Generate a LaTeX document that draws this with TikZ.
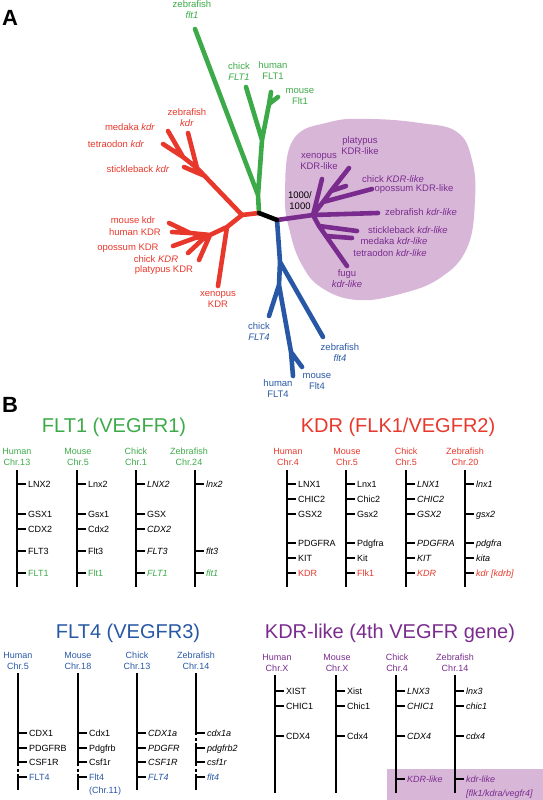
\documentclass[tikz,border=0pt]{standalone}
\usepackage{fontspec}
\setmainfont{Liberation Sans}
\definecolor{cg}{RGB}{61,170,73}
\definecolor{cr}{RGB}{232,56,44}
\definecolor{cb}{RGB}{40,88,165}
\definecolor{cp}{RGB}{122,44,142}
\definecolor{cl}{RGB}{216,182,216}
\tikzset{
 br/.style={line width=4.6pt,line cap=round,line join=round},
 lab/.style={font=\fontsize{9.5}{11}\selectfont,align=center,inner sep=0pt},
 sp/.style={font=\fontsize{9}{10.5}\selectfont,align=center,inner sep=0pt},
 gene/.style={font=\fontsize{9}{11}\selectfont,anchor=west,inner sep=0pt,text height=6.5pt,text depth=0pt},
 chromline/.style={line width=2.8pt},
 tk/.style={line width=1.8pt},
 ttl/.style={font=\fontsize{20}{24}\selectfont,inner sep=0pt},
 panel/.style={font=\bfseries\fontsize{22}{26}\selectfont,inner sep=0pt}
}
\newcommand\gn[5]{\node[gene,#4] (#3) at ({#1+11},#2) {#5}; \draw[tk] ([xshift=-2pt]#3.west) -- ++(-9pt,0pt);}
\newcommand\chromo[4]{\coordinate (#1t) at (#2,#3); \coordinate (#1b) at (#2,#4); \draw[chromline] (#1t) -- (#1b);}
\begin{document}
\begin{tikzpicture}[x=1pt,y=-1pt]
\useasboundingbox (0,0) rectangle (543,800);
% ---------------- panel A ----------------
\fill[cl] plot[smooth cycle, tension=0.7] coordinates {(293,140) (330,122) (370,119) (420,123) (457,132) (472,160) (475,200) (467,248) (440,278) (400,294) (357,300) (322,288) (302,265) (290,232) (285,195)};
% green
\coordinate (G0) at (259,213); \coordinate (G1) at (258,195); \coordinate (Gz) at (195,29);
\coordinate (G2) at (262,140); \coordinate (Gc) at (246,87); \coordinate (G3) at (269,104);
\coordinate (Gh) at (271,92); \coordinate (Gm) at (278,97);
\draw[br,cg] (G0) -- (G1) -- (Gz) (G1) -- (G2) -- (Gc) (G2) -- (G3) -- (Gh) (G3) -- (Gm);
% red
\coordinate (RN) at (242,215); \coordinate (R1) at (197,168); \coordinate (Rz) at (188,133);
\coordinate (R2) at (183,157); \coordinate (Rm) at (168,131); \coordinate (Rt) at (163,144);
\coordinate (Rs0) at (205,176); \coordinate (Rs) at (184,167);
\coordinate (R3) at (227,227); \coordinate (Rx) at (218,286); \coordinate (R4) at (210,235);
\coordinate (R5) at (190,233); \coordinate (Rmo) at (169,223); \coordinate (Rhu) at (172,232);
\coordinate (R6) at (195,238); \coordinate (Rop) at (173,246); \coordinate (R7) at (203,239);
\coordinate (Rch) at (188,253); \coordinate (Rpl) at (199,260);
\draw[br,cr] (G0) -- (RN) -- (R1) -- (Rz) (R1) -- (R2) -- (Rm) (R2) -- (Rt) (Rs0) -- (Rs)
  (RN) -- (R3) -- (Rx) (R3) -- (R4) -- (R5) -- (Rmo) (R5) -- (Rhu) (R4) -- (R6) -- (Rop)
  (R4) -- (R7) -- (Rch) (R4) -- (Rpl);
% blue
\coordinate (B0) at (277,220); \coordinate (B1) at (280,262); \coordinate (Bz) at (323,337);
\coordinate (B2) at (279,285); \coordinate (Bc) at (269,316); \coordinate (B3) at (291,352);
\coordinate (Bh) at (293,376); \coordinate (Bm) at (302,367);
\draw[br,cb] (B0) -- (B1) -- (Bz) (B1) -- (B2) -- (Bc) (B2) -- (B3) -- (Bh) (B3) -- (Bm);
% purple
\coordinate (PN) at (313,215); \coordinate (Px) at (322,179); \coordinate (Q1) at (323,202);
\coordinate (Q2) at (331,191); \coordinate (Ppl) at (349,168); \coordinate (Pch) at (346,186);
\coordinate (Pop) at (372,189); \coordinate (Pz) at (378,213); \coordinate (F1) at (319,226);
\coordinate (Pst) at (357,231); \coordinate (F2) at (326,236); \coordinate (Pme) at (352,238);
\coordinate (Pfu) at (347,266);
\draw[br,cp] (B0) -- (PN) -- (Px) (PN) -- (Q1) -- (Q2) -- (Ppl) (Q2) -- (Pch) (Q1) -- (Pop)
  (PN) -- (Pz) (PN) -- (F1) -- (Pst) (F1) -- (F2) -- (Pme) (F2) -- (Pfu);
% black
\draw[br,black] (G0) -- (B0);
% labels
\node[panel] (pa) at (10,18) {A};
\node[lab,text=cg] (lgz) at (192,10) {zebrafish\\\textit{flt1}};
\node[lab,text=cg] (lgc) at (239,72) {chick\\\textit{FLT1}};
\node[lab,text=cg] (lgh) at (273,71) {human\\FLT1};
\node[lab,text=cg] (lgm) at (300,96) {mouse\\Flt1};
\node[lab,text=cr] (lrz) at (187,118) {zebrafish\\\textit{kdr}};
\node[lab,text=cr] (lrm) at (130,127) {medaka \textit{kdr}};
\node[lab,text=cr] (lrt) at (116,144) {tetraodon \textit{kdr}};
\node[lab,text=cr] (lrs) at (138,169) {stickleback \textit{kdr}};
\node[lab,text=cr] (lrmo) at (133,220) {mouse kdr};
\node[lab,text=cr] (lrhu) at (135,232) {human KDR};
\node[lab,text=cr] (lrop) at (128,248) {opossum KDR};
\node[lab,text=cr] (lrch) at (156,259) {chick \textit{KDR}};
\node[lab,text=cr] (lrpl) at (164,270) {platypus KDR};
\node[lab,text=cr] (lrx) at (218,299) {xenopus\\KDR};
\node[lab,text=cb] (lbc) at (259,332) {chick\\\textit{FLT4}};
\node[lab,text=cb] (lbz) at (340,353) {zebrafish\\\textit{flt4}};
\node[lab,text=cb] (lbh) at (278,389) {human\\FLT4};
\node[lab,text=cb] (lbm) at (317,381) {mouse\\Flt4};
\node[lab,text=cp] (lppl) at (360,146) {platypus\\KDR-like};
\node[lab,text=cp] (lpx) at (319,161) {xenopus\\KDR-like};
\node[lab,text=cp] (lpch) at (393,179) {chick \textit{KDR-like}};
\node[lab,text=cp] (lpop) at (414,189) {opossum KDR-like};
\node[lab,text=cp] (lpz) at (421,212) {zebrafish \textit{kdr-like}};
\node[lab,text=cp] (lpst) at (408,230) {stickleback \textit{kdr-like}};
\node[lab,text=cp] (lpme) at (394,241) {medaka \textit{kdr-like}};
\node[lab,text=cp] (lpte) at (390,253) {tetraodon \textit{kdr-like}};
\node[lab,text=cp] (lpfu) at (347,279) {fugu\\\textit{kdr-like}};
\node[lab] (boot) at (300,201) {1000/\\1000};
% ---------------- panel B ----------------
\node[panel] (pb) at (10,405) {B};
\node[ttl,text=cg] (t1) at (114,427) {FLT1 (VEGFR1)};
\node[ttl,text=cr] (t2) at (398,427) {KDR (FLK1/VEGFR2)};
\node[ttl,text=cb] (t3) at (128,633) {FLT4 (VEGFR3)};
\node[ttl,text=cp] (t4) at (390,633) {KDR-like (4th VEGFR gene)};
% FLT1
\node[sp,text=cg] (s11) at (17,457) {Human\\Chr.13};
\node[sp,text=cg] (s12) at (78,457) {Mouse\\Chr.5};
\node[sp,text=cg] (s13) at (136,457) {Chick\\Chr.1};
\node[sp,text=cg] (s14) at (189,457) {Zebrafish\\Chr.24};
\chromo{c11}{17}{470}{587}
\chromo{c12}{77}{470}{587}
\chromo{c13}{136}{470}{587}
\chromo{c14}{195}{470}{587}
\gn{17}{484}{a1}{}{LNX2}\gn{17}{514}{a2}{}{GSX1}\gn{17}{529}{a3}{}{CDX2}\gn{17}{551}{a4}{}{FLT3}\gn{17}{573}{a5}{text=cg}{FLT1}
\gn{77}{484}{b1}{}{Lnx2}\gn{77}{514}{b2}{}{Gsx1}\gn{77}{529}{b3}{}{Cdx2}\gn{77}{551}{b4}{}{Flt3}\gn{77}{573}{b5}{text=cg}{Flt1}
\gn{136}{484}{c1}{}{\textit{LNX2}}\gn{136}{514}{c2}{}{GSX}\gn{136}{529}{c3}{}{\textit{CDX2}}\gn{136}{551}{c4}{}{\textit{FLT3}}\gn{136}{573}{c5}{text=cg}{\textit{FLT1}}
\gn{195}{484}{d1}{}{\textit{lnx2}}\gn{195}{551}{d4}{}{\textit{flt3}}\gn{195}{573}{d5}{text=cg}{\textit{flt1}}
% KDR
\node[sp,text=cr] (s21) at (288,457) {Human\\Chr.4};
\node[sp,text=cr] (s22) at (347,457) {Mouse\\Chr.5};
\node[sp,text=cr] (s23) at (406,457) {Chick\\Chr.5};
\node[sp,text=cr] (s24) at (465,457) {Zebrafish\\Chr.20};
\chromo{c21}{287}{470}{587}
\chromo{c22}{346}{470}{587}
\chromo{c23}{406}{470}{587}
\chromo{c24}{465}{470}{587}
\gn{287}{484}{e1}{}{LNX1}\gn{287}{499}{e2}{}{CHIC2}\gn{287}{514}{e3}{}{GSX2}\gn{287}{543}{e4}{}{PDGFRA}\gn{287}{558}{e5}{}{KIT}\gn{287}{573}{e6}{text=cr}{KDR}
\gn{346}{484}{f1}{}{Lnx1}\gn{346}{499}{f2}{}{Chic2}\gn{346}{514}{f3}{}{Gsx2}\gn{346}{543}{f4}{}{Pdgfra}\gn{346}{558}{f5}{}{Kit}\gn{346}{573}{f6}{text=cr}{Flk1}
\gn{406}{484}{g1}{}{\textit{LNX1}}\gn{406}{499}{g2}{}{\textit{CHIC2}}\gn{406}{514}{g3}{}{\textit{GSX2}}\gn{406}{543}{g4}{}{\textit{PDGFRA}}\gn{406}{558}{g5}{}{\textit{KIT}}\gn{406}{573}{g6}{text=cr}{\textit{KDR}}
\gn{465}{484}{h1}{}{\textit{lnx1}}\gn{465}{514}{h3}{}{\textit{gsx2}}\gn{465}{543}{h4}{}{\textit{pdgfra}}\gn{465}{558}{h5}{}{\textit{kita}}\gn{465}{573}{h6}{text=cr}{\textit{kdr [kdrb]}}
% FLT4
\node[sp,text=cb] (s31) at (18,661) {Human\\Chr.5};
\node[sp,text=cb] (s32) at (78,661) {Mouse\\Chr.18};
\node[sp,text=cb] (s33) at (137,661) {Chick\\Chr.13};
\node[sp,text=cb] (s34) at (196,661) {Zebrafish\\Chr.14};
\coordinate (k1a) at (18,673); \coordinate (k1b) at (18,766); \coordinate (k1c) at (18,769); \coordinate (k1d) at (18,771.5); \coordinate (k1e) at (18,774); \coordinate (k1f) at (18,790);
\draw[chromline] (k1a) -- (k1b) (k1c) -- (k1d) (k1e) -- (k1f);
\coordinate (k2a) at (78,673); \coordinate (k2b) at (78,766); \coordinate (k2c) at (78,769); \coordinate (k2d) at (78,771.5); \coordinate (k2e) at (78,774); \coordinate (k2f) at (78,790);
\draw[chromline] (k2a) -- (k2b) (k2c) -- (k2d) (k2e) -- (k2f);
\chromo{c33}{137}{673}{790}
\coordinate (k4a) at (196,673); \coordinate (k4b) at (196,735); \coordinate (k4c) at (196,738); \coordinate (k4d) at (196,740.5); \coordinate (k4e) at (196,743); \coordinate (k4f) at (196,766); \coordinate (k4g) at (196,769); \coordinate (k4h) at (196,771.5); \coordinate (k4i) at (196,774); \coordinate (k4j) at (196,790);
\draw[chromline] (k4a) -- (k4b) (k4c) -- (k4d) (k4e) -- (k4f) (k4g) -- (k4h) (k4i) -- (k4j);
\gn{18}{733}{i1}{}{CDX1}\gn{18}{748}{i2}{}{PDGFRB}\gn{18}{762}{i3}{}{CSF1R}\gn{18}{777}{i4}{text=cb}{FLT4}
\gn{78}{733}{j1}{}{Cdx1}\gn{78}{748}{j2}{}{Pdgfrb}\gn{78}{762}{j3}{}{Csf1r}\gn{78}{777}{j4}{text=cb}{Flt4}
\node[gene,text=cb] (j5) at (89,790) {(Chr.11)};
\gn{137}{733}{l1}{}{\textit{CDX1a}}\gn{137}{748}{l2}{}{\textit{PDGFR}}\gn{137}{762}{l3}{}{\textit{CSF1R}}\gn{137}{777}{l4}{text=cb}{\textit{FLT4}}
\gn{196}{733}{m1}{}{\textit{cdx1a}}\gn{196}{748}{m2}{}{\textit{pdgfrb2}}\gn{196}{762}{m3}{}{\textit{csf1r}}\gn{196}{777}{m4}{text=cb}{\textit{flt4}}
% KDR-like
\fill[cl] (387,769) rectangle (543,800);
\node[sp,text=cp] (s41) at (277,663) {Human\\Chr.X};
\node[sp,text=cp] (s42) at (337,663) {Mouse\\Chr.X};
\node[sp,text=cp] (s43) at (397,663) {Chick\\Chr.4};
\node[sp,text=cp] (s44) at (455,663) {Zebrafish\\Chr.14};
\chromo{c41}{275}{675}{793}
\chromo{c42}{336}{675}{793}
\chromo{c43}{396}{675}{793}
\chromo{c44}{455}{675}{793}
\gn{275}{691}{n1}{}{XIST}\gn{275}{706}{n2}{}{CHIC1}\gn{275}{736}{n3}{}{CDX4}
\gn{336}{691}{o1}{}{Xist}\gn{336}{706}{o2}{}{Chic1}\gn{336}{736}{o3}{}{Cdx4}
\gn{396}{691}{q1}{}{\textit{LNX3}}\gn{396}{706}{q2}{}{\textit{CHIC1}}\gn{396}{736}{q3}{}{\textit{CDX4}}\gn{396}{779}{q4}{text=cp}{\textit{KDR-like}}
\gn{455}{691}{r1}{}{\textit{lnx3}}\gn{455}{706}{r2}{}{\textit{chic1}}\gn{455}{736}{r3}{}{\textit{cdx4}}\gn{455}{779}{r4}{text=cp}{\textit{kdr-like}}
\node[gene,text=cp] (r5) at (466,793) {\textit{[flk1/kdra/vegfr4]}};
\end{tikzpicture}
\end{document}
